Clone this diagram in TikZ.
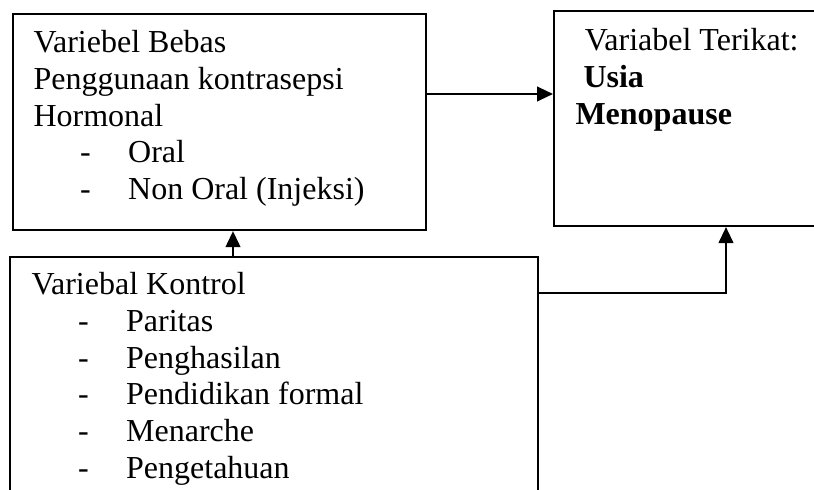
\documentclass[tikz,border=0pt]{standalone}
\usepackage{fontspec}
\setmainfont{Liberation Serif}
\usetikzlibrary{
  positioning,
  arrows.meta,
}
\newcommand{\butir}[1]{\hspace*{17.5pt}\makebox[18pt][l]{-}#1}
\tikzset{
  x=0.375pt,
  y=-0.375pt,
  >={Triangle[length=6pt,width=5.5pt]},
  kotak/.style={
    rectangle,
    draw,
    line width=0.8pt,
    anchor=north west,
    inner sep=0pt,
  },
  isi/.style={
    anchor=base west,
    inner sep=0pt,
    font=\fontsize{12}{13.75}\selectfont,
  },
  panah/.style={
    ->,
    line width=0.8pt,
  },
}

\begin{document}
\begin{tikzpicture}
  \useasboundingbox (0,0) rectangle (814,490);

  % kotak
  \node[kotak, minimum width=154.9pt, minimum height=81pt]  (bebas)   at (12,13)  {};
  \node[kotak, minimum width=100.1pt, minimum height=80.6pt] (terikat) at (553,10)  {};
  \node[kotak, minimum width=198pt, minimum height=91.5pt]  (kontrol) at (9,256)  {};

  % isi
  \node[isi] (bebastxt) at (33,53) {\begin{tabular}[t]{@{}l@{}}
    Variebel Bebas\\
    Penggunaan kontrasepsi\\
    Hormonal\\
    \butir{Oral}\\
    \butir{Non Oral (Injeksi)}
  \end{tabular}};
  \node[isi] (terikattxt) at (575,51) {\begin{tabular}[t]{@{}l@{}}
    \hspace*{3.5pt}Variabel Terikat:\\
    \hspace*{3pt}\textbf{Usia}\\
    \textbf{Menopause}
  \end{tabular}};
  \node[isi] (kontroltxt) at (31,295) {\begin{tabular}[t]{@{}l@{}}
    Variebal Kontrol\\
    \butir{Paritas}\\
    \butir{Penghasilan}\\
    \butir{Pendidikan formal}\\
    \butir{Menarche}\\
    \butir{Pengetahuan}
  \end{tabular}};

  % panah
  \draw[panah] (bebas.east |- 0,94) -- (terikat.west |- 0,94);
  \draw[panah] (kontrol.north -| 233,0) -- (bebas.south -| 233,0);
  \draw[panah] (kontrol.east |- 0,293) -| (terikat.south -| 726,0);
\end{tikzpicture}
\end{document}
